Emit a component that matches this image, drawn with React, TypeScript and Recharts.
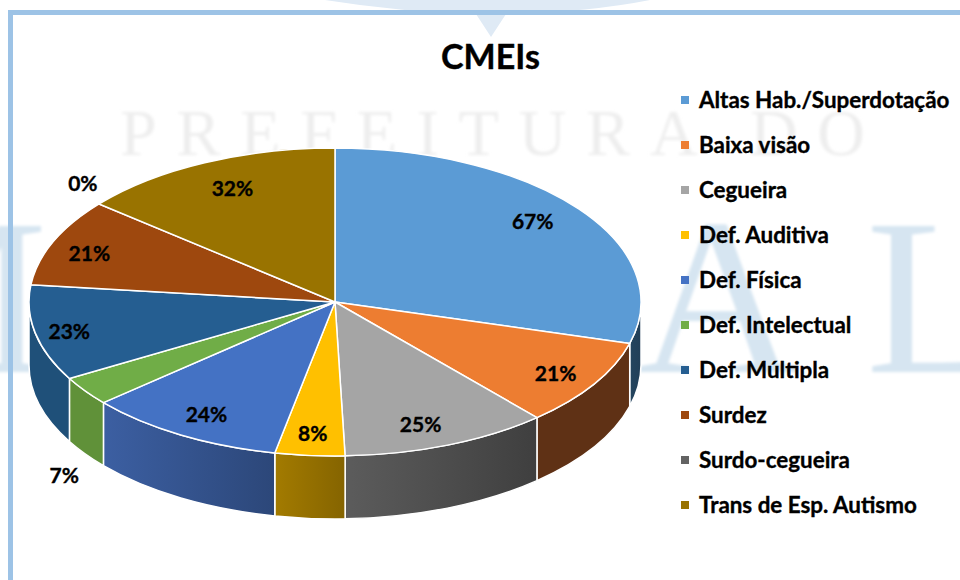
import React from "react";
import { PieChart, Pie, Legend } from "recharts";

const categories = [
  "Altas Hab./Superdotação",
  "Baixa visão",
  "Cegueira",
  "Def. Auditiva",
  "Def. Física",
  "Def. Intelectual",
  "Def. Múltipla",
  "Surdez",
  "Surdo-cegueira",
  "Trans de Esp. Autismo",
];
const values = [67, 21, 25, 8.4, 24, 7, 23, 21, 0, 32];
const colors = ["#5b9bd5", "#ed7d31", "#a5a5a5", "#ffc000", "#4472c4", "#70ad47", "#255e91", "#9e480e", "#636363", "#997300"];
const wallLeft = ["#24455f", "#5f3115", "#5c5c5c", "#a37b00", "#3c5fa2", "#609139", "#1f5079", "#863d0c", "#545454", "#826200"];
const wallRight = ["#223f58", "#5f3115", "#3f3f3f", "#856400", "#2c4779", "#609139", "#1f5079", "#863d0c", "#545454", "#826200"];

// label nudges from the default spot, the 7% and 0% labels sit outside the pie
const labelNudge = [[-7, -3], [3, 2], [-9, 1], [-1, 2], [1, 0], [-61, 98], [-14, 2], [-9, 1], [-54, -37], [7, 2]];

const data = categories.map((name, i) => ({ name, value: values[i], fill: colors[i], idx: i }));

const FONT = "Lato, 'Open Sans', sans-serif";
const SQUASH = 0.503;
const DEPTH = 63;

function pt(cx: number, cy: number, r: number, deg: number) {
  const a = (deg * Math.PI) / 180;
  return [cx + r * Math.cos(a), cy - r * SQUASH * Math.sin(a)];
}

function Slice3D(props: any) {
  const { cx, cy, outerRadius: r, startAngle, endAngle, fill } = props;
  const i = props.payload?.idx ?? props.idx ?? 0;
  if (startAngle === endAngle) return null;
  const ry = r * SQUASH;
  const hi = Math.max(startAngle, endAngle);
  const lo = Math.min(startAngle, endAngle);
  const [x1, y1] = pt(cx, cy, r, hi);
  const [x2, y2] = pt(cx, cy, r, lo);
  const big = hi - lo > 180 ? 1 : 0;
  const top = `M${cx},${cy} L${x1},${y1} A${r},${ry} 0 ${big} 1 ${x2},${y2} Z`;

  // only the front half of the rim shows a wall
  const wallHi = Math.min(hi, 0);
  const wallLo = Math.max(lo, -180);
  let wall = null;
  if (wallHi > wallLo) {
    const [wx1, wy1] = pt(cx, cy, r, wallHi);
    const [wx2, wy2] = pt(cx, cy, r, wallLo);
    const d = `M${wx1},${wy1} A${r},${ry} 0 0 1 ${wx2},${wy2} L${wx2},${wy2 + DEPTH} A${r},${ry} 0 0 0 ${wx1},${wy1 + DEPTH} Z`;
    wall = (
      <g>
        <defs>
          <linearGradient id={`wall-${i}`} gradientUnits="userSpaceOnUse" x1={Math.min(wx1, wx2)} x2={Math.max(wx1, wx2)} y1={0} y2={0}>
            <stop offset="0" stopColor={wallLeft[i]} />
            <stop offset="1" stopColor={wallRight[i]} />
          </linearGradient>
        </defs>
        <path d={d} fill={`url(#wall-${i})`} stroke="#fff" strokeWidth={1.5} strokeLinejoin="round" />
      </g>
    );
  }
  return (
    <g>
      {wall}
      <path d={top} fill={fill} stroke="#fff" strokeWidth={1.5} strokeLinejoin="round" />
    </g>
  );
}

function renderLabel(props: any) {
  const { cx, cy, outerRadius: r, midAngle, value } = props;
  const i = props.payload?.idx ?? props.idx ?? props.index ?? 0;
  const [x, y] = pt(cx, cy, r * 0.84, midAngle);
  const [dx, dy] = labelNudge[i];
  return (
    <text x={x + dx} y={y + dy} textAnchor="middle" dominantBaseline="central" fontFamily={FONT} fontWeight={700} fontSize={21} fill="#000" stroke="#000" strokeWidth={0.35}>
      {Math.round(value)}%
    </text>
  );
}

function LegendList(props: any) {
  const items = props.payload ?? [];
  return (
    <div style={{ fontFamily: FONT, fontWeight: 700, fontSize: 22.4, color: "#000", WebkitTextStroke: "0.35px #000" }}>
      {items.map((it: any) => (
        <div key={it.value} style={{ height: 45, display: "flex", alignItems: "center", whiteSpace: "nowrap" }}>
          <span style={{ width: 8, height: 8, background: it.color, marginRight: 10, flex: "none" }} />
          {it.value}
        </div>
      ))}
    </div>
  );
}

function Backdrop() {
  return (
    <svg width={960} height={580} style={{ position: "absolute", left: 0, top: 0 }}>
      <defs>
        <filter id="soft">
          <feGaussianBlur stdDeviation="1.8" />
        </filter>
      </defs>
      <path d="M325,0 Q400,12 476,14 L491,37 L506,14 Q590,12 650,0 Z" fill="#dfeaf5" />
      <text x={120} y={155} textLength={745} lengthAdjust="spacing" fontFamily="'Liberation Serif', serif" fontSize={66} fill="#eeeeee" filter="url(#soft)">
        PREFEITURA DO
      </text>
      <g filter="url(#soft)" fontFamily="'Liberation Serif', serif" fontSize={222} fill="#d6e5f1">
        <text x={-150} y={372}>M</text>
        <text x={718} y={372} textAnchor="middle">A</text>
        <text x={866} y={372}>L</text>
      </g>
      <rect x={8} y={10} width={5} height={570} fill="#9dc3e6" />
      <rect x={8} y={10} width={952} height={5} fill="#9dc3e6" />
    </svg>
  );
}

export default function App() {
  return (
    <div style={{ position: "absolute", left: 0, top: 0, width: 960, height: 580, overflow: "hidden", background: "#fff" }}>
      <Backdrop />
      <div style={{ position: "absolute", left: 0, top: 35, width: 981, textAlign: "center", fontFamily: FONT, fontWeight: 700, fontSize: 34, color: "#000", WebkitTextStroke: "0.4px #000" }}>
        CMEIs
      </div>
      <div style={{ position: "absolute", left: 0, top: 0 }}>
        <PieChart width={960} height={580} margin={{ top: 0, right: 0, bottom: 0, left: 0 }}>
          <Pie
            data={data}
            dataKey="value"
            nameKey="name"
            cx={335}
            cy={302}
            outerRadius={306}
            startAngle={90}
            endAngle={-270}
            paddingAngle={0}
            stroke="#fff"
            shape={Slice3D}
            label={renderLabel}
            labelLine={false}
            isAnimationActive={false}
          />
          <Legend content={LegendList} layout="vertical" align="right" verticalAlign="top" wrapperStyle={{ left: 681, top: 77, width: 279 }} />
        </PieChart>
      </div>
    </div>
  );
}
